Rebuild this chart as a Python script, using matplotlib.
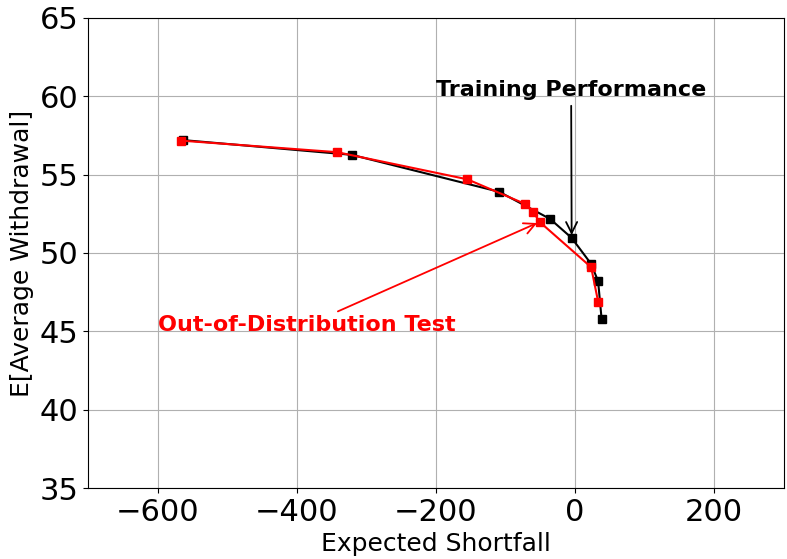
import matplotlib
matplotlib.use("Agg")
import matplotlib.pyplot as plt

# Training frontier (expected shortfall vs. expected average withdrawal)
train_es = [-563, -321, -109, -36, -5, 23, 33, 38]
train_ew = [57.2, 56.26, 53.9, 52.17, 50.96, 49.3, 48.2, 45.8]

# Out-of-distribution test frontier
ood_es = [-567, -342, -155, -72, -60, -51, 23, 33]
ood_ew = [57.17, 56.43, 54.7, 53.13, 52.6, 51.98, 49.09, 46.9]

fig, ax = plt.subplots(figsize=(7.87, 5.59), dpi=100)
fig.subplots_adjust(left=0.112, right=0.996, top=0.968, bottom=0.127)

ax.plot(train_es, train_ew, color="black", marker="s", markersize=6, lw=1.5, zorder=3)
ax.plot(ood_es, ood_ew, color="red", marker="s", markersize=6, lw=1.5, zorder=4)

ax.annotate("Training Performance", xy=(train_es[4], train_ew[4]), xytext=(-200, 60),
            fontsize=16, fontweight="bold", color="black",
            arrowprops=dict(arrowstyle="->", color="black", lw=1.3, mutation_scale=20))
ax.annotate("Out-of-Distribution Test", xy=(ood_es[5], ood_ew[5]), xytext=(-600, 45),
            fontsize=16, fontweight="bold", color="red",
            arrowprops=dict(arrowstyle="->", color="red", lw=1.3, mutation_scale=20))

ax.set_xlim(-700, 300)
ax.set_ylim(35, 65)
ax.set_xticks([-600, -400, -200, 0, 200])
ax.set_yticks([35, 40, 45, 50, 55, 60, 65])
ax.tick_params(labelsize=22)
ax.set_xlabel("Expected Shortfall", fontsize=18)
ax.set_ylabel("E[Average Withdrawal]", fontsize=18)
ax.grid(True, color="#b0b0b0", lw=0.8)
ax.set_axisbelow(True)

fig.savefig("out.png", dpi=100)
